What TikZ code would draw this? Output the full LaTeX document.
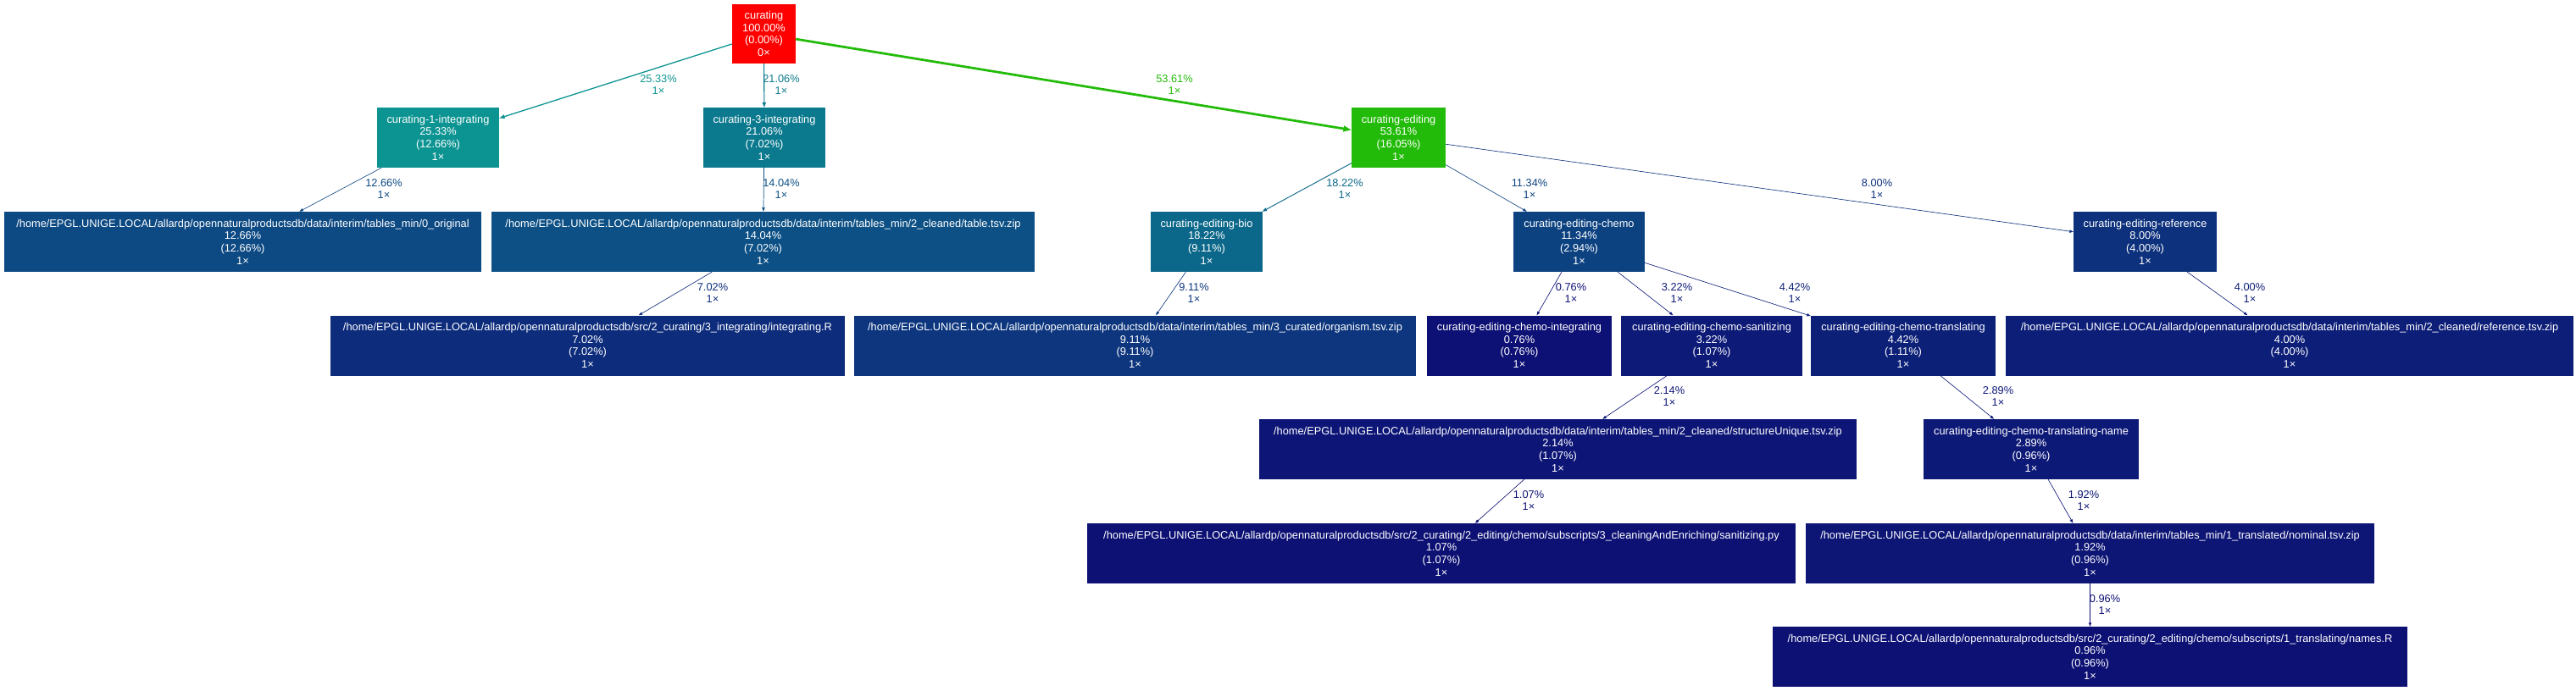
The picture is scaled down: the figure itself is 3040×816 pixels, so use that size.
\documentclass[tikz,border=0pt]{standalone}
\usepackage{fontspec}
\setmainfont{Liberation Sans}
\usetikzlibrary{arrows.meta}
\newcommand\gvfont{\fontsize{12.8}{14.6}\selectfont}
\definecolor{cA}{HTML}{FF0000}
\definecolor{cInt1}{HTML}{0C9492}
\definecolor{cInt3}{HTML}{0C7A8E}
\definecolor{cEdit}{HTML}{23BB09}
\definecolor{cOrig}{HTML}{0D4983}
\definecolor{cTable}{HTML}{0C5085}
\definecolor{cIntR}{HTML}{0D2C7C}
\definecolor{cOrg}{HTML}{0D367E}
\definecolor{cBio}{HTML}{0C688A}
\definecolor{cChemo}{HTML}{0D4281}
\definecolor{cRef}{HTML}{0D317D}
\definecolor{cCInt}{HTML}{0D1074}
\definecolor{cCSan}{HTML}{0D1A77}
\definecolor{cCTr}{HTML}{0D2078}
\definecolor{cRefT}{HTML}{0D1E78}
\definecolor{cSU}{HTML}{0D1676}
\definecolor{cCTN}{HTML}{0D1977}
\definecolor{cSpy}{HTML}{0D1174}
\definecolor{cNom}{HTML}{0D1575}
\definecolor{cNames}{HTML}{0D1174}
\tikzset{
  nd/.style={rectangle, draw=none, inner sep=0pt, minimum height=71pt, text=white, align=center, font=\gvfont},
  el/.style={align=center, font=\gvfont, inner sep=0pt},
  ed/.style={-{Triangle[length=4.5pt,width=3.2pt]}, line width=0.64pt},
}
\begin{document}
\begin{tikzpicture}[x=1pt,y=-1pt]
\fill[white] (0,0) rectangle (3040,816);
\useasboundingbox (0,0) rectangle (3040,816);
% nodes
\node[nd, fill=cA, minimum width=75pt, minimum height=70pt] (cur) at (901.5,40) {curating\\100.00\%\\(0.00\%)\\0×};
\node[nd, fill=cInt1, minimum width=144pt] (int1) at (517,162.5) {curating-1-integrating\\25.33\%\\(12.66\%)\\1×};
\node[nd, fill=cInt3, minimum width=144pt] (int3) at (902,162.5) {curating-3-integrating\\21.06\%\\(7.02\%)\\1×};
\node[nd, fill=cEdit, minimum width=111pt] (edit) at (1650.5,162.5) {curating-editing\\53.61\%\\(16.05\%)\\1×};
\node[nd, fill=cOrig, minimum width=563pt] (orig) at (286.5,285.5) {/home/EPGL.UNIGE.LOCAL/allardp/opennaturalproductsdb/data/interim/tables\_min/0\_original\\12.66\%\\(12.66\%)\\1×};
\node[nd, fill=cTable, minimum width=641pt] (table) at (900.5,285.5) {/home/EPGL.UNIGE.LOCAL/allardp/opennaturalproductsdb/data/interim/tables\_min/2\_cleaned/table.tsv.zip\\14.04\%\\(7.02\%)\\1×};
\node[nd, fill=cBio, minimum width=132pt] (bio) at (1424,285.5) {curating-editing-bio\\18.22\%\\(9.11\%)\\1×};
\node[nd, fill=cChemo, minimum width=155pt] (chemo) at (1863.5,285.5) {curating-editing-chemo\\11.34\%\\(2.94\%)\\1×};
\node[nd, fill=cRef, minimum width=169pt] (ref) at (2531.5,285.5) {curating-editing-reference\\8.00\%\\(4.00\%)\\1×};
\node[nd, fill=cIntR, minimum width=607pt] (intR) at (693.5,408) {/home/EPGL.UNIGE.LOCAL/allardp/opennaturalproductsdb/src/2\_curating/3\_integrating/integrating.R\\7.02\%\\(7.02\%)\\1×};
\node[nd, fill=cOrg, minimum width=663pt] (org) at (1339.5,408) {/home/EPGL.UNIGE.LOCAL/allardp/opennaturalproductsdb/data/interim/tables\_min/3\_curated/organism.tsv.zip\\9.11\%\\(9.11\%)\\1×};
\node[nd, fill=cCInt, minimum width=218pt] (cint) at (1793,408) {curating-editing-chemo-integrating\\0.76\%\\(0.76\%)\\1×};
\node[nd, fill=cCSan, minimum width=214pt] (csan) at (2020,408) {curating-editing-chemo-sanitizing\\3.22\%\\(1.07\%)\\1×};
\node[nd, fill=cCTr, minimum width=218pt] (ctr) at (2246,408) {curating-editing-chemo-translating\\4.42\%\\(1.11\%)\\1×};
\node[nd, fill=cRefT, minimum width=670pt] (reft) at (2702,408) {/home/EPGL.UNIGE.LOCAL/allardp/opennaturalproductsdb/data/interim/tables\_min/2\_cleaned/reference.tsv.zip\\4.00\%\\(4.00\%)\\1×};
\node[nd, fill=cSU, minimum width=705pt] (su) at (1838.5,530.5) {/home/EPGL.UNIGE.LOCAL/allardp/opennaturalproductsdb/data/interim/tables\_min/2\_cleaned/structureUnique.tsv.zip\\2.14\%\\(1.07\%)\\1×};
\node[nd, fill=cCTN, minimum width=254pt] (ctn) at (2397,530.5) {curating-editing-chemo-translating-name\\2.89\%\\(0.96\%)\\1×};
\node[nd, fill=cSpy, minimum width=836pt] (spy) at (1701,653.5) {/home/EPGL.UNIGE.LOCAL/allardp/opennaturalproductsdb/src/2\_curating/2\_editing/chemo/subscripts/3\_cleaningAndEnriching/sanitizing.py\\1.07\%\\(1.07\%)\\1×};
\node[nd, fill=cNom, minimum width=671pt] (nom) at (2466.5,653.5) {/home/EPGL.UNIGE.LOCAL/allardp/opennaturalproductsdb/data/interim/tables\_min/1\_translated/nominal.tsv.zip\\1.92\%\\(0.96\%)\\1×};
\node[nd, fill=cNames, minimum width=749pt] (names) at (2466.5,775.5) {/home/EPGL.UNIGE.LOCAL/allardp/opennaturalproductsdb/src/2\_curating/2\_editing/chemo/subscripts/1\_translating/names.R\\0.96\%\\(0.96\%)\\1×};
% edges
\draw[ed, draw=cInt1, line width=1.29pt, -{Triangle[length=6.4pt,width=4.5pt]}] (cur) -- (int1);
\draw[ed, draw=cInt3, line width=1.08pt, -{Triangle[length=5.9pt,width=4.1pt]}] (cur) -- (int3);
\draw[ed, draw=cEdit, line width=2.74pt, -{Triangle[length=9.4pt,width=6.6pt]}] (cur) -- (edit);
\draw[ed, draw=cOrig] (int1) -- (orig);
\draw[ed, draw=cTable, line width=0.72pt, -{Triangle[length=4.8pt,width=3.4pt]}] (int3) -- (table);
\draw[ed, draw=cIntR] (table) -- (intR);
\draw[ed, draw=cBio, line width=0.93pt, -{Triangle[length=5.5pt,width=3.9pt]}] (edit) -- (bio);
\draw[ed, draw=cChemo] (edit) -- (chemo);
\draw[ed, draw=cRef] (edit) -- (ref);
\draw[ed, draw=cOrg] (bio) -- (org);
\draw[ed, draw=cCInt] (chemo) -- (cint);
\draw[ed, draw=cCSan] (chemo) -- (csan);
\draw[ed, draw=cCTr] (chemo) -- (ctr);
\draw[ed, draw=cRefT] (ref) -- (reft);
\draw[ed, draw=cSU] (csan) -- (su);
\draw[ed, draw=cCTN] (ctr) -- (ctn);
\draw[ed, draw=cSpy] (su) -- (spy);
\draw[ed, draw=cNom] (ctn) -- (nom);
\draw[ed, draw=cNames] (nom) -- (names);
% edge labels
\node[el, text=cInt1] (l1) at (777,100) {25.33\%\\1×};
\node[el, text=cInt3] (l2) at (922,100) {21.06\%\\1×};
\node[el, text=cEdit] (l3) at (1386,100) {53.61\%\\1×};
\node[el, text=cOrig] (l4) at (453,223) {12.66\%\\1×};
\node[el, text=cTable] (l5) at (922,223) {14.04\%\\1×};
\node[el, text=cIntR] (l6) at (841,346) {7.02\%\\1×};
\node[el, text=cBio] (l7) at (1587,223) {18.22\%\\1×};
\node[el, text=cChemo] (l8) at (1805,223) {11.34\%\\1×};
\node[el, text=cRef] (l9) at (2215,223) {8.00\%\\1×};
\node[el, text=cOrg] (l10) at (1409,346) {9.11\%\\1×};
\node[el, text=cCInt] (l11) at (1854,346) {0.76\%\\1×};
\node[el, text=cCSan] (l12) at (1979,346) {3.22\%\\1×};
\node[el, text=cCTr] (l13) at (2118,346) {4.42\%\\1×};
\node[el, text=cRefT] (l14) at (2655,346) {4.00\%\\1×};
\node[el, text=cSU] (l15) at (1970,468) {2.14\%\\1×};
\node[el, text=cCTN] (l16) at (2358,468) {2.89\%\\1×};
\node[el, text=cSpy] (l17) at (1804,591) {1.07\%\\1×};
\node[el, text=cNom] (l18) at (2459,591) {1.92\%\\1×};
\node[el, text=cNames] (l19) at (2484,714) {0.96\%\\1×};
\end{tikzpicture}
\end{document}
